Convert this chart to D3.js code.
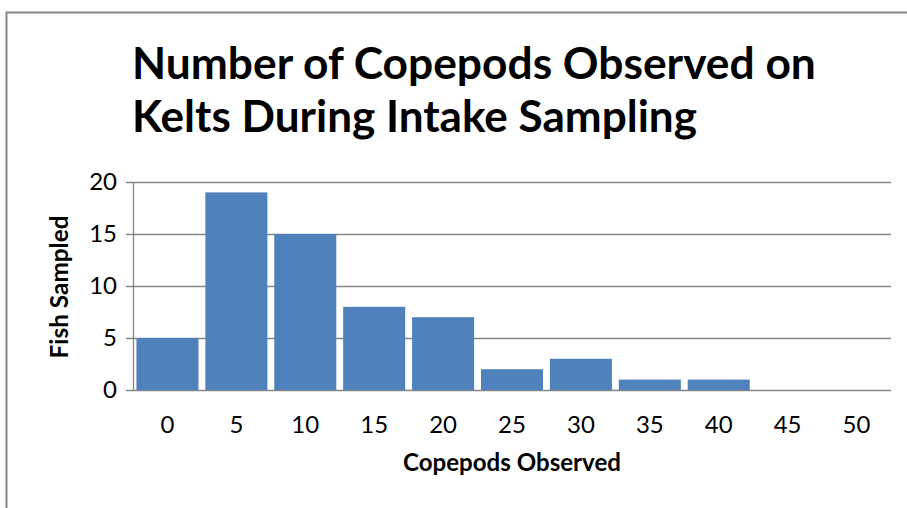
<!DOCTYPE html>
<html>
<head>
<meta charset="utf-8">
<script src="https://cdn.jsdelivr.net/npm/d3@7"></script>
<style>
  body { margin: 0; background: #fff; }
  svg { display: block; font-family: Lato, "Open Sans", sans-serif; }
</style>
</head>
<body>
<svg id="chart" width="907" height="508"></svg>
<script>
var categories = ["0", "5", "10", "15", "20", "25", "30", "35", "40", "45", "50"]
var fishSampled = [5, 19, 15, 8, 7, 2, 3, 1, 1, 0, 0]
var yTicks = [0, 5, 10, 15, 20]
var titleLines = ["Number of Copepods Observed on", "Kelts During Intake Sampling"]

var svg = d3.select("#chart");
const margins = {top: 182, right: 16, bottom: 118, left: 133}
var width = 907, height = 508;

// shrink or grow a text to a measured width
function fitText(sel, target) {
    var size = parseFloat(sel.attr("font-size"));
    var len = sel.node().getComputedTextLength();
    sel.attr("font-size", size * target / len);
}

// outer frame (runs off the right and bottom of the picture)
svg.append("rect")
    .attr("x", 6.5).attr("y", 12.5)
    .attr("width", 920).attr("height", 520)
    .attr("fill", "none")
    .attr("stroke", "#868686")
    .attr("stroke-width", 2);

var xScale = d3.scaleBand()
    .domain(categories)
    .range([margins.left, width - margins.right])
    .paddingInner(0.1)
    .paddingOuter(0.05);

var yScale = d3.scaleLinear()
    .domain([0, 20])
    .range([height - margins.bottom, margins.top]);

// gridlines
svg.append("g").selectAll("line")
    .data(yTicks).enter()
    .append("line")
    .attr("x1", margins.left - 7)
    .attr("x2", width - margins.right)
    .attr("y1", d => Math.round(yScale(d)) + 0.5)
    .attr("y2", d => Math.round(yScale(d)) + 0.5)
    .attr("stroke", "#868686")
    .attr("stroke-width", 1.3);

svg.append("line")
    .attr("x1", margins.left + 0.5).attr("x2", margins.left + 0.5)
    .attr("y1", margins.top).attr("y2", yScale(0))
    .attr("stroke", "#868686")
    .attr("stroke-width", 1.3);

// bars
svg.append("g").selectAll("rect")
    .data(fishSampled).enter()
    .append("rect")
    .attr("x", (d, i) => xScale(categories[i]))
    .attr("width", xScale.bandwidth())
    .attr("y", d => yScale(d))
    .attr("height", d => yScale(0) - yScale(d))
    .attr("fill", "#4F81BD");

// y tick labels
svg.append("g").selectAll("text")
    .data(yTicks).enter()
    .append("text")
    .attr("x", 117)
    .attr("y", d => yScale(d) + 8)
    .attr("text-anchor", "end")
    .attr("font-size", 24)
    .attr("fill", "#000")
    .text(d => d);

// x tick labels
svg.append("g").selectAll("text")
    .data(categories).enter()
    .append("text")
    .attr("x", d => xScale(d) + xScale.bandwidth() / 2)
    .attr("y", 433)
    .attr("text-anchor", "middle")
    .attr("font-size", 24)
    .attr("fill", "#000")
    .text(d => d);

// axis titles
var xTitle = svg.append("text")
    .attr("x", 512).attr("y", 471)
    .attr("text-anchor", "middle")
    .attr("font-weight", "bold")
    .attr("font-size", 20)
    .text("Copepods Observed");
fitText(xTitle, 218);

var yTitle = svg.append("text")
    .attr("transform", "translate(68,287) rotate(-90)")
    .attr("text-anchor", "middle")
    .attr("font-weight", "bold")
    .attr("font-size", 20)
    .text("Fish Sampled");
fitText(yTitle, 143);

// chart title
var lineTargets = [684, 565];
titleLines.forEach(function(line, i) {
    var t = svg.append("text")
        .attr("x", 132)
        .attr("y", 79 + i * 53)
        .attr("font-weight", "bold")
        .attr("font-size", 40)
        .text(line);
    fitText(t, lineTargets[i]);
});
</script>
</body>
</html>
